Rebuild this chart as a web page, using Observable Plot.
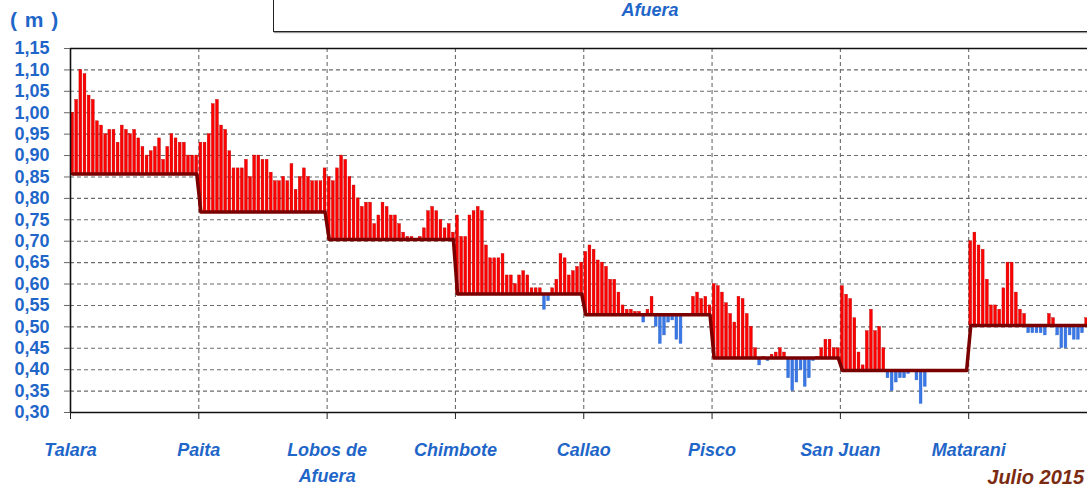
<!DOCTYPE html>
<html>
<head>
<meta charset="utf-8">
<script src="https://cdn.jsdelivr.net/npm/d3@7"></script>
<script src="https://cdn.jsdelivr.net/npm/@observablehq/plot@0.6"></script>
<style>
  html, body { margin: 0; padding: 0; background: #fff; width: 1087px; height: 489px; overflow: hidden; }
  #wrap { position: relative; width: 1087px; height: 489px; overflow: hidden; font-family: "Liberation Sans", Arial, sans-serif; }
  #chart { position: absolute; left: 0; top: 0; }
  .box { position: absolute; left: 273px; top: -40px; width: 900px; height: 70px; border: 1.5px solid #222; box-shadow: 1px 1px 1px #999; background: #fff; }
  .boxtext { position: absolute; left: 560px; width: 180px; text-align: center; top: 1px; font-size: 18px; font-weight: bold; font-style: italic; color: #1f66c9; line-height: 18px; }
  .unit { position: absolute; left: 10px; top: 8px; font-size: 21px; font-weight: bold; color: #1f66c9; letter-spacing: 1px; }
  .date { position: absolute; right: 3px; top: 466px; font-size: 20px; font-weight: bold; font-style: italic; color: #7b2b12; white-space: nowrap; }
</style>
</head>
<body>
<div id="wrap">
  <div id="chart"></div>
  <div class="box"></div>
  <div class="boxtext">Afuera</div>
  <div class="unit">( m )</div>
  <div class="date">Julio 2015</div>
</div>
<script>
// Stations (x tick labels)
const stations = ["Talara", "Paita", "Lobos de\nAfuera", "Chimbote", "Callao", "Pisco", "San Juan", "Matarani"];
// Monthly mean sea level per station (m)
const means = [0.857, 0.768, 0.704, 0.577, 0.528, 0.427, 0.398, 0.503];
// Daily sea level, July 2015 (m)
const talara   = [1.00,1.03,1.10,1.09,1.04,1.03,0.98,0.97,0.95,0.96,0.96,0.93,0.97,0.96,0.95,0.96,0.94,0.92,0.90,0.91,0.92,0.94,0.89,0.92,0.95,0.94,0.93,0.93,0.90,0.90,0.90];
const paita    = [0.93,0.93,0.95,1.02,1.03,0.97,0.96,0.91,0.87,0.87,0.87,0.89,0.85,0.90,0.90,0.89,0.89,0.86,0.84,0.84,0.85,0.84,0.88,0.82,0.85,0.87,0.85,0.84,0.84,0.84,0.87];
const lobos    = [0.85,0.84,0.87,0.90,0.89,0.85,0.83,0.80,0.78,0.79,0.79,0.74,0.76,0.79,0.78,0.76,0.76,0.74,0.72,0.71,0.71,0.70,0.71,0.73,0.77,0.78,0.77,0.75,0.73,0.74,0.72];
const chimbote = [0.76,0.71,0.71,0.76,0.77,0.78,0.77,0.69,0.66,0.66,0.66,0.67,0.62,0.62,0.60,0.62,0.63,0.62,0.59,0.59,0.59,0.54,0.56,0.59,0.61,0.67,0.66,0.62,0.63,0.64,0.65];
const callao   = [0.675,0.69,0.68,0.655,0.65,0.64,0.61,0.61,0.58,0.55,0.54,0.54,0.535,0.535,0.51,0.54,0.57,0.50,0.46,0.48,0.51,0.515,0.47,0.46,0.53,0.53,0.57,0.58,0.565,0.57,0.55];
const pisco    = [0.60,0.595,0.58,0.555,0.53,0.51,0.57,0.565,0.53,0.50,0.45,0.41,0.43,0.42,0.435,0.44,0.45,0.44,0.38,0.35,0.37,0.40,0.36,0.38,0.42,0.43,0.45,0.47,0.47,0.45,0.45];
const sanJuan  = [0.595,0.575,0.565,0.52,0.44,0.41,0.49,0.54,0.49,0.50,0.45,0.38,0.35,0.37,0.38,0.38,0.39,0.40,0.375,0.32,0.36,0.40,null,null,null,null,null,null,null,null,null];
const matarani = [0.70,0.72,0.69,0.68,0.61,0.55,0.55,0.54,0.59,0.65,0.65,0.58,0.54,0.53,0.485,0.485,0.485,0.485,0.48,0.53,0.52,0.48,0.45,0.45,0.48,0.47,0.47,0.485,0.52,0.51,0.50];
// Y tick values
const yTicks = [0.30,0.35,0.40,0.45,0.50,0.55,0.60,0.65,0.70,0.75,0.80,0.85,0.90,0.95,1.00,1.05,1.10,1.15];

const series = [talara, paita, lobos, chimbote, callao, pisco, sanJuan, matarani];
const N = 31;
const rows = [];
series.forEach((vals, s) => vals.forEach((v, d) => rows.push({s, g: s * N + d, mean: means[s], v})));
const bars = rows.filter(r => r.v != null);
const bounds = stations.map((_, i) => i * N);

const chart = Plot.plot({
  width: 1087,
  height: 489,
  marginTop: 48,
  marginBottom: 77,
  marginLeft: 70,
  marginRight: 0,
  style: {fontFamily: "'Liberation Sans', Arial, sans-serif", background: "#fff"},
  x: {domain: [0, stations.length * N], range: [70, 1096.5]},
  y: {domain: [0.30, 1.15]},
  marks: [
    Plot.ruleY(yTicks.slice(1, -1), {stroke: "#6b6b6b", strokeWidth: 1.1, strokeDasharray: "4,3"}),
    Plot.ruleX(bounds.slice(1), {stroke: "#6b6b6b", strokeWidth: 1.1, strokeDasharray: "4,3"}),
    Plot.rectY(bars, {
      x1: "g", x2: d => d.g + 1, y1: "mean", y2: "v",
      fill: d => d.v >= d.mean ? "#ff0000" : "#3a78e6",
      stroke: d => d.v >= d.mean ? "#b80000" : "#2f66cc",
      strokeWidth: 0.4,
      insetLeft: 0.65, insetRight: 0.65
    }),
    Plot.line(rows, {x: d => d.g + 0.5, y: "mean", stroke: "#7a0000", strokeWidth: 3.5, curve: "linear"}),
    Plot.ruleY([1.15], {stroke: "#111", strokeWidth: 1.6}),
    Plot.ruleY([0.30], {stroke: "#111", strokeWidth: 1.6}),
    Plot.ruleX([0], {stroke: "#111", strokeWidth: 1.6}),
    Plot.axisY({
      ticks: yTicks,
      tickFormat: d => d.toFixed(2).replace(".", ","),
      tickSize: 6, tickPadding: 15,
      stroke: "#666", fill: "#1f66c9",
      fontSize: 18, fontWeight: "bold",
      label: null
    }),
    Plot.axisX({
      ticks: bounds,
      tickFormat: i => stations[Math.round(i / N)],
      tickSize: 7, tickPadding: 19,
      stroke: "#222", fill: "#1f66c9",
      fontSize: 18, fontWeight: "bold", fontStyle: "italic",
      lineHeight: 1.4, lineAnchor: "top",
      label: null
    })
  ]
});
document.getElementById("chart").appendChild(chart);
</script>
</body>
</html>
